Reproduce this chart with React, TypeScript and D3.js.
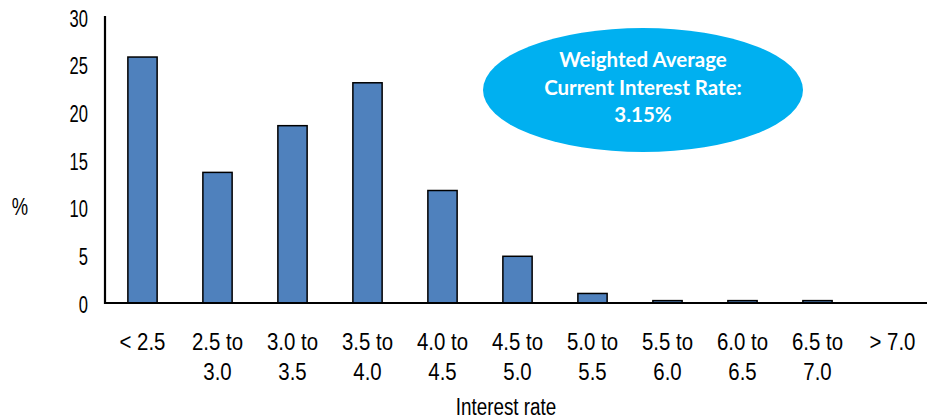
import React from "react";
import * as d3 from "d3";

const categories = ["< 2.5", "2.5 to 3.0", "3.0 to 3.5", "3.5 to 4.0", "4.0 to 4.5", "4.5 to 5.0", "5.0 to 5.5", "5.5 to 6.0", "6.0 to 6.5", "6.5 to 7.0", "> 7.0"];
const labelLines = [["< 2.5"], ["2.5 to", "3.0"], ["3.0 to", "3.5"], ["3.5 to", "4.0"], ["4.0 to", "4.5"], ["4.5 to", "5.0"], ["5.0 to", "5.5"], ["5.5 to", "6.0"], ["6.0 to", "6.5"], ["6.5 to", "7.0"], ["> 7.0"]];
const values = [25.8, 13.7, 18.6, 23.1, 11.8, 4.9, 1.0, 0.25, 0.25, 0.25, 0];
const yTicks = [0, 5, 10, 15, 20, 25, 30];
const calloutLines = ["Weighted Average", "Current Interest Rate:", "3.15%"];

const W = 927, H = 420;
const left = 105, right = 930, top = 17, bottom = 303;
const font = "'Liberation Sans', Arial, sans-serif";

function NText({ x, y, anchor = "middle", size, sx, children }: { x: number; y: number; anchor?: string; size: number; sx: number; children: React.ReactNode }) {
  return (
    <text transform={`translate(${x},${y}) scale(${sx},1)`} textAnchor={anchor} fontFamily={font} fontSize={size} fill="#000">{children}</text>
  );
}

export default function App() {
  const x = d3.scaleBand<string>().domain(categories).range([left, right]).paddingInner(0.61).paddingOuter(0.305);
  const y = d3.scaleLinear().domain([0, 30]).range([bottom, top]);
  return (
    <svg width={W} height={H} style={{ position: "absolute", left: 0, top: 0, background: "#fff" }}>
      {categories.map((c, i) => {
        const v = values[i];
        if (v <= 0) return null;
        return (
          <rect key={c} x={x(c)} y={y(v)} width={x.bandwidth()} height={y(0) - y(v)} fill="#4F81BD" stroke="#000" strokeWidth={1.5} />
        );
      })}
      <line x1={left} x2={left} y1={top - 1} y2={bottom + 1} stroke="#000" strokeWidth={2.2} />
      <line x1={left - 1} x2={W} y1={bottom} y2={bottom} stroke="#000" strokeWidth={2.2} />
      {yTicks.map(t => (
        <NText key={t} x={88} y={y(t) + 9.5} anchor="end" size={23} sx={0.72}>{t}</NText>
      ))}
      {categories.map((c, i) => {
        const cx = (x(c) as number) + x.bandwidth() / 2;
        return labelLines[i].map((l, j) => (
          <NText key={c + j} x={cx} y={350 + j * 29.5} size={24} sx={0.85}>{l}</NText>
        ));
      })}
      <NText x={20} y={215} size={23} sx={0.8}>%</NText>
      <NText x={506} y={415} size={23} sx={0.82}>Interest rate</NText>
      <ellipse cx={643} cy={90} rx={160} ry={62} fill="#00B0F0" />
      {calloutLines.map((l, i) => (
        <text key={i} x={643} y={67 + i * 27.5} textAnchor="middle" fontFamily="Lato, 'Open Sans', sans-serif" fontWeight="bold" fontSize={20.5} fill="#fff">{l}</text>
      ))}
    </svg>
  );
}
